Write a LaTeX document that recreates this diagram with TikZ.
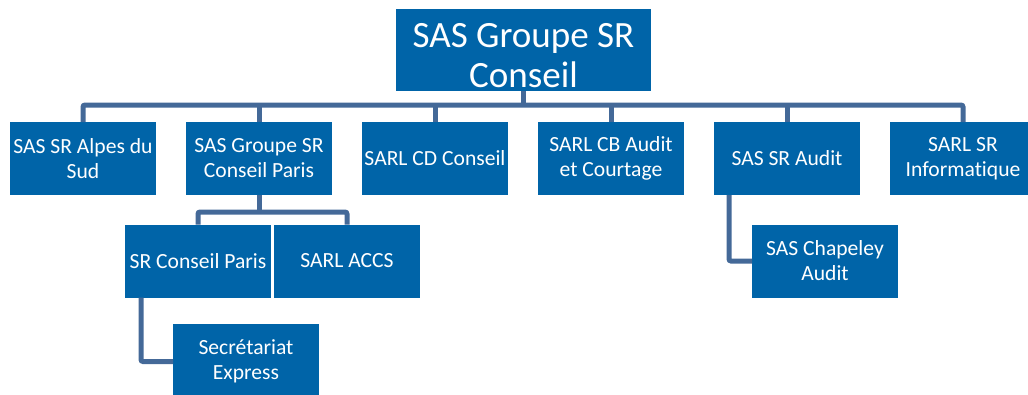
\documentclass[tikz,border=0pt]{standalone}
\usepackage{fontspec}
\setmainfont{Carlito}[Ligatures=NoCommon]
\usetikzlibrary{positioning}
\definecolor{boxblue}{RGB}{0,100,168}
\definecolor{linkblue}{RGB}{68,105,152}

\begin{document}
\begin{tikzpicture}[
                x=0.75pt, y=-0.75pt,
                node distance=22.5pt,
                unit/.style={rectangle, fill=boxblue, text=white, outer sep=0pt, inner sep=1pt,
                    minimum width=109.5pt, minimum height=54.75pt, align=center,
                    font=\fontsize{16.2}{18.8}\selectfont},
                head/.style={unit, minimum width=191.25pt, minimum height=61.5pt,
                    font=\fontsize{27.8}{30}\selectfont},
                link/.style={draw=linkblue, line width=3.75pt, rounded corners=1.5pt}
                ]
            \useasboundingbox (0,0) rectangle (1028,394);
            % Nodes
            \node[head] (groupe) at (523.5,50) {\rule{0pt}{27pt}SAS Groupe SR\\Conseil};
            \node[unit] (alpes) at (83,158.5) {SAS SR Alpes du\\Sud};
            \node[unit] (paris) [right=of alpes] {SAS Groupe SR\\Conseil Paris};
            \node[unit] (cd) [right=of paris] {SARL CD Conseil};
            \node[unit] (cb) [right=of cd] {SARL CB Audit\\et Courtage};
            \node[unit] (audit) [right=of cb] {SAS SR Audit};
            \node[unit] (info) [right=of audit] {SARL SR\\Informatique};
            \node[unit] (srparis) at (198,261) {SR Conseil Paris};
            \node[unit] (accs) [right=2.25pt of srparis] {SARL ACCS};
            \node[unit, minimum height=56pt] (secr) at (246,361.5) {Secrétariat\\Express};
            \node[unit] (chapeley) at (825,261) {SAS Chapeley\\Audit};
            % Edges
            \coordinate (bus) at (523.5,105);
            \coordinate (subbus) at (259,212);
            \draw[link] (groupe.south) -- (bus);
            \draw[link] (alpes.north) |- (bus) -| (info.north);
            \foreach \n in {paris,cd,cb,audit}
                \draw[link] (\n.north) -- (\n.north |- bus);
            \draw[link] (paris.south) -- (subbus);
            \draw[link] (srparis.north) |- (subbus) -| (accs.north);
            \draw[link] ([xshift=12pt]srparis.south west) |- (secr.west);
            \draw[link] ([xshift=11.25pt]audit.south west) |- (chapeley.west);

            \end{tikzpicture}
\end{document}
